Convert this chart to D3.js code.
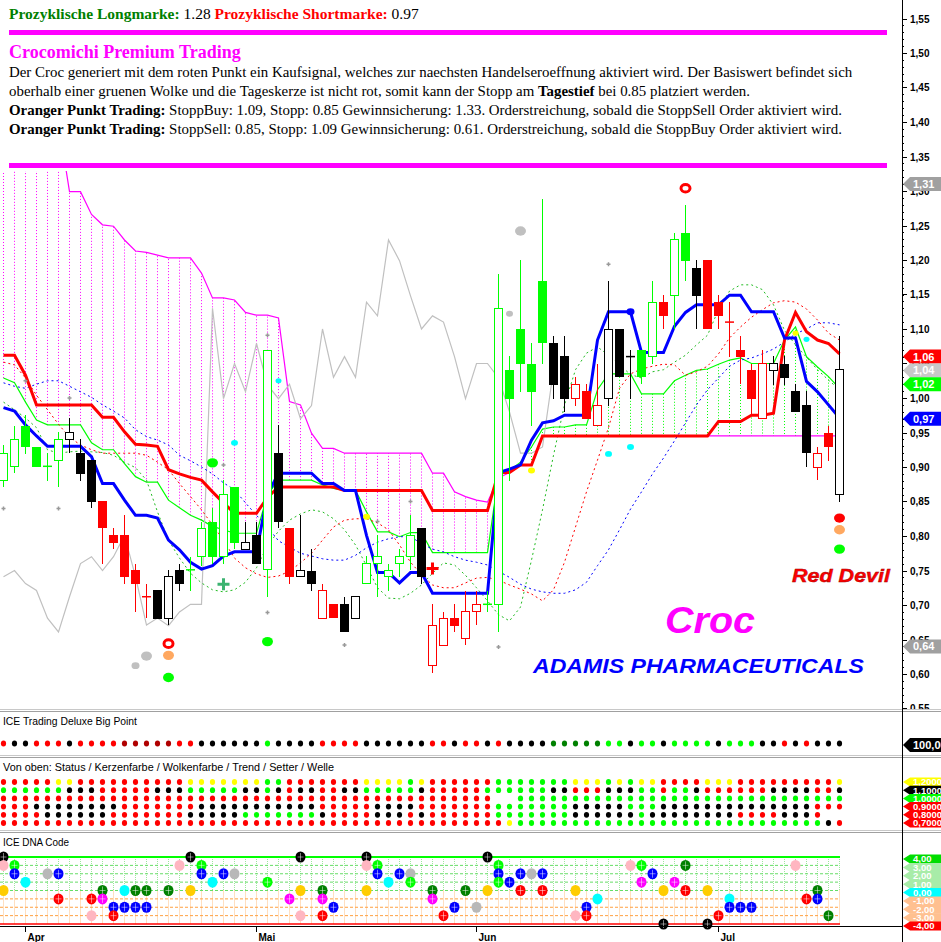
<!DOCTYPE html>
<html><head><meta charset="utf-8">
<script src="https://cdn.jsdelivr.net/npm/d3@7"></script>
<style>body{margin:0;background:#fff}svg{display:block}</style>
</head><body>
<svg id="chart" width="941" height="942"></svg>
<script>
var openV=[0.881,0.901,0.960,0.929,0.901,0.910,0.940,0.920,0.910,0.851,
0.801,0.801,0.751,0.712,0.722,0.681,0.751,0.751,0.770,0.821,
0.770,0.871,0.781,0.801,0.751,0.920,0.811,0.741,0.750,0.681,
0.701,0.701,0.681,0.731,0.760,0.741,0.760,0.770,0.811,0.612,
0.642,0.681,0.652,0.690,0.701,0.701,1.041,1.100,1.050,1.170,
1.080,1.061,0.999,1.010,0.960,0.999,1.100,1.060,1.070,1.060,
1.139,1.149,1.239,1.189,1.200,1.139,1.110,1.070,1.041,0.971,
1.040,1.050,1.010,0.990,0.900,0.950,0.860];
var highV=[0.932,0.960,0.975,0.929,0.920,0.951,0.971,0.940,0.910,0.851,
0.811,0.830,0.760,0.731,0.722,0.751,0.760,0.770,0.821,0.840,
0.881,0.871,0.821,0.821,1.069,0.961,0.811,0.830,0.781,0.731,
0.701,0.712,0.712,0.771,0.801,0.760,0.781,0.830,0.811,0.701,
0.690,0.701,0.721,0.721,0.721,1.180,1.061,1.200,1.079,1.289,
1.090,1.090,1.030,1.020,1.050,1.170,1.100,1.070,1.070,1.170,
1.149,1.239,1.280,1.200,1.200,1.149,1.139,1.090,1.050,1.070,
1.061,1.061,1.020,1.010,0.929,0.960,1.090];
var lowV=[0.871,0.891,0.919,0.900,0.880,0.871,0.920,0.880,0.840,0.760,
0.781,0.731,0.690,0.681,0.680,0.671,0.721,0.721,0.757,0.760,
0.760,0.781,0.781,0.760,0.712,0.811,0.731,0.741,0.721,0.681,
0.681,0.661,0.681,0.731,0.712,0.721,0.741,0.751,0.731,0.601,
0.642,0.661,0.642,0.671,0.690,0.661,0.880,1.009,0.959,1.050,
0.999,0.980,0.989,0.970,0.960,0.989,1.030,0.999,1.020,1.050,
1.100,1.100,1.170,1.100,1.100,1.100,1.060,1.020,0.975,0.971,
1.019,1.019,0.980,0.900,0.881,0.909,0.850];
var closeV=[0.920,0.940,0.929,0.900,0.901,0.940,0.950,0.890,0.850,0.811,
0.790,0.741,0.731,0.712,0.680,0.742,0.731,0.751,0.811,0.770,
0.860,0.790,0.791,0.760,1.069,0.821,0.741,0.750,0.731,0.721,
0.681,0.661,0.712,0.760,0.770,0.750,0.770,0.801,0.741,0.671,
0.681,0.670,0.690,0.701,0.701,1.130,0.999,1.050,1.009,1.079,
1.019,0.999,1.020,0.970,0.989,1.100,1.030,1.060,1.030,1.139,
1.119,1.229,1.199,1.148,1.100,1.119,1.110,1.060,0.999,1.050,
1.050,1.029,0.980,0.920,0.920,0.929,1.041];
// Kerzenfarbe: g = gruen, k = schwarz, r = rot
var candleCol='gggggg'+'kkk'+'rrrrr'+'kkk'+'ggggg'+'kk'+'g'+'k'+'r'+'kk'+'rr'+'kk'+'ggggg'+'k'+'rrrrr'+'gggggg'+'kk'+'rrr'+'kkk'+'gg'+'r'+'gg'+'k'+'rrrrrr'+'kkkk'+'rr'+'k';

var kijun=[1.062,1.062,1.033,0.990,0.990,0.990,0.990,0.990,0.990,0.972,
0.972,0.951,0.933,0.932,0.930,0.896,0.890,0.885,0.881,0.864,
0.848,0.833,0.833,0.833,0.856,0.871,0.871,0.871,0.871,0.871,
0.871,0.866,0.866,0.866,0.866,0.866,0.866,0.866,0.866,0.837,
0.837,0.837,0.837,0.837,0.837,0.892,0.892,0.903,0.903,0.945,
0.945,0.945,0.945,0.945,0.945,0.945,0.945,0.945,0.945,0.945,
0.945,0.945,0.945,0.945,0.945,0.966,0.966,0.966,0.975,0.975,
0.978,1.084,1.124,1.096,1.084,1.079,1.064];
var tenkan=[0.986,0.981,0.961,0.945,0.930,0.930,0.930,0.930,0.915,0.876,
0.876,0.852,0.830,0.830,0.826,0.794,0.780,0.762,0.752,0.757,
0.771,0.777,0.777,0.777,0.860,0.891,0.891,0.891,0.891,0.876,
0.876,0.866,0.866,0.801,0.747,0.747,0.732,0.747,0.747,0.717,
0.717,0.717,0.717,0.717,0.717,0.892,0.897,0.903,0.939,0.964,
0.967,0.975,0.975,0.975,1.084,1.125,1.125,1.125,1.066,1.066,
1.066,1.104,1.124,1.135,1.135,1.135,1.149,1.149,1.125,1.125,
1.125,1.087,1.087,1.024,1.009,0.990,0.971];
var spanA=[1.029,1.022,0.994,0.968,0.961,0.961,0.961,0.961,0.935,0.925,
0.925,0.905,0.886,0.878,0.878,0.852,0.841,0.830,0.823,0.814,
0.809,0.804,0.804,0.804,0.860,0.881,0.881,0.881,0.881,0.874,
0.869,0.866,0.866,0.835,0.806,0.806,0.799,0.805,0.805,0.776,
0.776,0.776,0.776,0.776,0.776,0.888,0.895,0.907,0.929,0.955,
0.958,0.958,0.961,0.961,1.012,1.035,1.035,1.035,1.006,1.006,
1.006,1.025,1.033,1.040,1.042,1.049,1.055,1.058,1.050,1.050,
1.050,1.084,1.103,1.060,1.045,1.031,1.014];
var spanB=[1.400,1.400,1.400,1.400,1.400,1.400,1.299,1.299,1.266,1.251,
1.249,1.229,1.213,1.211,1.207,1.203,1.203,1.203,1.181,1.145,
1.145,1.142,1.124,1.120,1.120,1.116,0.995,0.990,0.949,0.927,
0.927,0.920,0.920,0.920,0.920,0.920,0.920,0.920,0.920,0.891,
0.891,0.864,0.857,0.852,0.849,0.884,0.892,0.903,0.903,0.945,
0.945,0.945,0.945,0.945,0.945,0.945,0.945,0.945,0.945,0.945,
0.945,0.945,0.945,0.945,0.945,0.945,0.945,0.945,0.945,0.945,
0.945,0.945,0.945,0.945,0.945,0.945,0.945];
var dashRed=[1.052,1.048,1.029,1.004,0.983,0.962,0.943,0.932,0.925,0.920,
0.920,0.920,0.920,0.917,0.907,0.896,0.876,0.857,0.838,0.816,
0.794,0.768,0.754,0.745,0.740,0.742,0.749,0.761,0.775,0.794,
0.813,0.823,0.825,0.825,0.819,0.809,0.787,0.762,0.744,0.729,
0.725,0.725,0.732,0.739,0.740,0.736,0.729,0.723,0.716,0.706,
0.722,0.762,0.813,0.864,0.910,0.957,1.014,1.035,1.042,1.046,
1.049,1.048,1.033,1.038,1.046,1.064,1.087,1.103,1.117,1.128,
1.138,1.141,1.139,1.129,1.113,1.094,1.084];
var dashBlue=[1.022,1.017,1.014,1.020,1.025,1.025,1.017,1.009,1.001,0.990,
0.981,0.971,0.954,0.944,0.939,0.932,0.917,0.909,0.900,0.890,
0.877,0.867,0.848,0.830,0.813,0.793,0.784,0.775,0.771,0.767,
0.765,0.765,0.772,0.783,0.791,0.796,0.799,0.799,0.789,0.781,
0.777,0.770,0.765,0.762,0.758,0.749,0.740,0.730,0.723,0.719,
0.717,0.717,0.722,0.733,0.757,0.780,0.809,0.839,0.864,0.890,
0.913,0.938,0.964,0.990,1.012,1.029,1.046,1.055,1.058,1.064,
1.071,1.081,1.093,1.100,1.109,1.109,1.106];
var dashGreen=[0.994,0.983,0.971,0.957,0.925,0.920,0.922,0.923,0.922,0.921,
0.917,0.907,0.899,0.881,0.835,0.794,0.768,0.746,0.732,0.722,
0.719,0.722,0.733,0.754,0.786,0.807,0.823,0.832,0.838,0.835,
0.825,0.809,0.787,0.757,0.725,0.710,0.709,0.717,0.729,0.746,
0.761,0.758,0.743,0.725,0.706,0.686,0.677,0.697,0.765,0.838,
0.917,0.990,1.041,1.065,1.074,1.062,1.048,1.034,1.029,1.038,
1.041,1.052,1.062,1.077,1.091,1.128,1.155,1.164,1.164,1.157,
1.135,1.098,1.077,1.059,1.041,1.026,1.012];

// kleine graue Kreuze [Index, Kurs]
var grayCrossI=[0,2,5,6,20,24,24,31,34,37,45,55];
var grayCrossV=[0.840,1.025,0.840,1.000,0.903,1.091,0.689,0.642,0.821,0.850,0.639,1.194];
// Signalpunkte [Index, Kurs, Farbe, Radius, Ring]
var sigI=[13,12,15,15,15,19,24,21,25,33,47,46,48,55,57,57,62,72,73,76,76,76];
var sigV=[0.626,0.612,0.644,0.627,0.595,0.906,0.647,0.935,1.025,0.828,1.242,1.122,0.895,0.919,0.929,1.125,1.304,1.094,1.085,0.826,0.809,0.781];
var sigC=['#c0c0c0','#c0c0c0','#ff0000','#ffa860','#00ff00','#00ff00','#00ff00','#00ffff','#00ffff','#ffff00','#c0c0c0','#c0c0c0','#ffff00','#00ffff','#00ffff','#0000ff','#ff0000','#ffff00','#00ffff','#ff0000','#ffa860','#00ff00'];
var sigR=[5.5,4,4.5,5.5,5.5,5.5,5.5,3.5,3,3.5,5.5,3.5,3.5,3.5,3.5,4,4.5,3,3,5.5,5.5,5.5];
var sigRing=[0,0,1,0,0,0,0,0,0,0,0,0,0,0,0,0,1,0,0,0,0,0];
var plusI=[20,39], plusV=[0.730,0.753], plusC=['#3cb371','#ff0000'];

var tagVals=[1.31,1.06,1.04,1.02,0.97,0.64];
var tagBg=['#a0a0a0','#ff0000','#c8c8c8','#00ff00','#0000ff','#a0a0a0'];

var monthStart=[2,23,43,65], monthNames=['Apr','Mai','Jun','Jul'];

// ICE Trading Deluxe Big Point (r rot, k schwarz, g gruen, D dunkelrot, E dunkelgruen)
var bigPoint='rkkrrrkrrrrDDDDDrrkkkkkkgkkkkrrrrkkkkkk'+'rrkrrkrkkkkEEEEEggkggkggggkgggkkrkrkkk';
// Von oben: Status / Kerzenfarbe / Wolkenfarbe / Trend / Setter / Welle
var rowStatus='rrrrr'+'yy'+'rrrrrrrrrr'+'yyyyyyy'+'gg'+'rrrrrrr'+'yyyy'+'g'+'y'+
              'rrrrrr'+'ggggggg'+'yyy'+'g'+'y'+'g'+'yy'+'rrrr'+'yyy'+'rrrrrrrrr'+'y';
var rowWolke ='rrrrrrrrrrrrrrrrrrrrrrrrrrrrrrrrrrrrrrrrrrrrr'+'  '+'gggggggggggggggggggggggggggggg';
var rowTrend ='rrrkkkkkkkkrrrrrrrkkkkkkkkkkkrrrrrkkkkr'+
              'rrrrrr'+'ggggggg'+'kkkkk'+'ggg'+'kkkkkkkkkkkkkk'+'rrr';
var rowSetter='rrrrkkkkkkrrrrrrrkkkkkgggggggkrrrrkkkrk'+
              'rrrrrr'+'ggggggg'+'kkkkkk'+'g'+'kkkkkkkk'+'rrrr'+'kkkr';
var rowWelle ='rrrrrrrrrrrrrrrrrrrrrrrrrrrrrrrrrrrrrrr'+
              'rrrrrrr'+'y'+'gggggggggggggggggggggggggggg'+'kr';

// ICE DNA Code: Index, Stufe, Farbe
var dnaI=[0,0,0,1,1,2,4,5,5,8,8,9,9,10,10,11,11,12,12,13,13,15,16,17,17,18,18,19,20,21,24,26,27,27,27,29,29,29,30,
33,33,33,34,34,35,36,37,37,39,39,40,41,42,43,44,44,45,45,45,46,47,47,48,49,49,52,52,53,53,54,57,58,58,59,60,60,61,62,62,64,64,65,66,66,67,68,72,73,74,74,75];
var dnaL=[4,3,0,3,2,1,2,2,-1,-1,-3,0,-1,-2,-3,0,-2,0,-2,0,-2,0,3,4,0,3,2,1,2,2,1,-1,4,0,-3,0,-1,-3,-2,
4,3,0,3,2,1,2,2,1,0,-1,-3,-2,0,-2,4,0,3,2,1,1,2,0,2,2,0,0,-3,-2,-3,-1,3,3,1,2,0,-4,1,3,0,0,-4,-3,-1,-2,-2,-2,3,-1,0,-1,-3];
var dnaC='KPYGBCSBRRPDMBRCBDBDBDPKYGBCBSGMKYPDMRB'+'KPYGBCBSGDMRBDSKYGBGBBRSBRYPBRCPGMBYKMDRYKRCBBBPRDBD';
</script>
<script>
var svg=d3.select('#chart');
var colMap={g:'#00ff00',k:'#000000',r:'#ff0000',y:'#ffff00',D:'#b00000',E:'#008000'};
var dnaCol={K:'#000000',P:'#ffb6c1',Y:'#ffcc00',G:'#00ff00',B:'#0000ff',C:'#00ffff',S:'#b8b8b8',R:'#ff0000',D:'#008000',M:'#ff00ff'};

var x=d3.scaleLinear().domain([0,76]).range([3.5,839.5]);
var y=d3.scaleLinear().domain([0.6,1.55]).range([674,18.5]);
var idx=d3.range(77);

/* ---------- Hauptchart ---------- */
svg.append('defs').append('clipPath').attr('id','plot')
  .append('rect').attr('x',0).attr('y',171).attr('width',900).attr('height',538);
var g=svg.append('g').attr('clip-path','url(#plot)');

// Wolke: Schraffur
idx.forEach(function(i){
  var bull=spanA[i]>spanB[i];
  g.append('line').attr('x1',x(i)).attr('x2',x(i))
    .attr('y1',y(spanA[i])).attr('y2',y(spanB[i]))
    .attr('stroke',bull?'#00ff00':'#ff00ff').attr('stroke-dasharray','1,2');
});
function line(vals){return d3.line().x(function(d,i){return x(i)}).y(function(d){return y(d)})(vals);}
g.append('path').attr('d',line(spanB)).attr('fill','none').attr('stroke','#ff00ff').attr('stroke-width',1.2);
g.append('path').attr('d',line(spanA)).attr('fill','none').attr('stroke','#00ff00').attr('stroke-width',1.2);

// Chikou (Schlusskurs 26 Perioden zurueck)
g.append('path').attr('d',line(closeV.slice(26))).attr('fill','none').attr('stroke','#c0c0c0').attr('stroke-width',1.2);

// gestrichelte Linien
[[dashGreen,'#22bb22'],[dashBlue,'#0000ff'],[dashRed,'#ff0000']].forEach(function(p){
  g.append('path').attr('d',line(p[0])).attr('fill','none').attr('stroke',p[1])
    .attr('stroke-width',1).attr('stroke-dasharray','2,3');
});
g.append('path').attr('d',line(kijun)).attr('fill','none').attr('stroke','#ff0000').attr('stroke-width',3);
g.append('path').attr('d',line(tenkan)).attr('fill','none').attr('stroke','#0000ff').attr('stroke-width',3);

// Kerzen
idx.forEach(function(i){
  var cx=x(i), col=colMap[candleCol[i]];
  var o=openV[i], c=closeV[i];
  g.append('line').attr('x1',cx).attr('x2',cx).attr('y1',y(highV[i])).attr('y2',y(lowV[i]))
    .attr('stroke',col).attr('shape-rendering','crispEdges');
  if(Math.abs(o-c)<0.002){
    g.append('line').attr('x1',cx-4.5).attr('x2',cx+4.5).attr('y1',y(o)).attr('y2',y(o))
      .attr('stroke',col).attr('stroke-width',1.5);
  } else if(c>o){
    g.append('rect').attr('x',cx-4).attr('y',y(c)).attr('width',8).attr('height',y(o)-y(c))
      .attr('fill','#fff').attr('stroke',col).attr('shape-rendering','crispEdges');
  } else {
    g.append('rect').attr('x',cx-4.5).attr('y',y(o)).attr('width',9).attr('height',y(c)-y(o))
      .attr('fill',col).attr('shape-rendering','crispEdges');
  }
});

// Marker
grayCrossI.forEach(function(ii,k){
  var cx=x(ii), cy=y(grayCrossV[k]);
  g.append('path').attr('d','M'+(cx-2)+','+cy+'H'+(cx+2)+'M'+cx+','+(cy-2)+'V'+(cy+2))
    .attr('stroke','#999').attr('stroke-width',1.5);
});
sigI.forEach(function(ii,k){
  var e=g.append('ellipse').attr('cx',x(ii)).attr('cy',y(sigV[k])).attr('rx',sigR[k]).attr('ry',sigR[k]*0.85);
  if(sigRing[k]) e.attr('fill','#fff').attr('stroke',sigC[k]).attr('stroke-width',3);
  else e.attr('fill',sigC[k]);
});
plusI.forEach(function(ii,k){
  var cx=x(ii), cy=y(plusV[k]);
  g.append('path').attr('d','M'+(cx-6)+','+cy+'H'+(cx+6)+'M'+cx+','+(cy-6)+'V'+(cy+6))
    .attr('stroke',plusC[k]).attr('stroke-width',3);
});

// Schriftzuege
svg.append('text').attr('x',792).attr('y',582).attr('font-family','Liberation Sans,Arial,sans-serif')
  .attr('font-size',18).attr('font-weight','bold').attr('font-style','italic').attr('fill','#ff0000')
  .attr('stroke','#a00000').attr('stroke-width',0.4)
  .attr('textLength',98).attr('lengthAdjust','spacingAndGlyphs').text('Red Devil');
svg.append('text').attr('x',665).attr('y',633).attr('font-family','Liberation Sans,Arial,sans-serif')
  .attr('font-size',36).attr('font-weight','bold').attr('font-style','italic').attr('fill','#ff00ff')
  .attr('textLength',90).attr('lengthAdjust','spacingAndGlyphs').text('Croc');
svg.append('text').attr('x',533).attr('y',673).attr('font-family','Liberation Sans,Arial,sans-serif')
  .attr('font-size',20).attr('font-weight','bold').attr('font-style','italic').attr('fill','#0000ff')
  .attr('textLength',331).attr('lengthAdjust','spacingAndGlyphs').text('ADAMIS PHARMACEUTICALS');

/* ---------- Textkasten oben ---------- */
svg.append('rect').attr('x',0).attr('y',0).attr('width',900).attr('height',171).attr('fill','#fff');
var serif='Liberation Serif,Times New Roman,serif';
var t1=svg.append('text').attr('x',9).attr('y',19).attr('font-family',serif).attr('font-size',15.5);
t1.append('tspan').attr('fill','#008000').attr('font-weight','bold').text('Prozyklische Longmarke: ');
t1.append('tspan').attr('fill','#000').text('1.28 ');
t1.append('tspan').attr('fill','#ff0000').attr('font-weight','bold').text('Prozyklische Shortmarke: ');
t1.append('tspan').attr('fill','#000').text('0.97');
svg.append('rect').attr('x',9).attr('y',30).attr('width',878).attr('height',5).attr('fill','#ff00ff');
svg.append('rect').attr('x',9).attr('y',163).attr('width',878).attr('height',5).attr('fill','#ff00ff');
svg.append('text').attr('x',9).attr('y',58).attr('font-family',serif).attr('font-size',18)
  .attr('font-weight','bold').attr('fill','#ff00ff').text('Crocomichi Premium Trading');
var body=[
  [['','Der Croc generiert mit dem roten Punkt ein Kaufsignal, welches zur naechsten Handelseroeffnung aktiviert wird. Der Basiswert befindet sich']],
  [['','oberhalb einer gruenen Wolke und die Tageskerze ist nicht rot, somit kann der Stopp am '],['b','Tagestief'],['',' bei 0.85 platziert werden.']],
  [['b','Oranger Punkt Trading:'],['',' StoppBuy: 1.09, Stopp: 0.85 Gewinnsicherung: 1.33. Orderstreichung, sobald die StoppSell Order aktiviert wird.']],
  [['b','Oranger Punkt Trading:'],['',' StoppSell: 0.85, Stopp: 1.09 Gewinnsicherung: 0.61. Orderstreichung, sobald die StoppBuy Order aktiviert wird.']]
];
body.forEach(function(parts,k){
  var t=svg.append('text').attr('x',9).attr('y',77+k*19).attr('font-family',serif).attr('font-size',14.9).attr('fill','#000');
  parts.forEach(function(p){t.append('tspan').attr('font-weight',p[0]?'bold':'normal').text(p[1]);});
});

/* ---------- Kursachse rechts ---------- */
var ax=svg.append('g').attr('transform','translate(902,0)');
d3.range(0.55,1.555,0.01).forEach(function(v){
  var yy=Math.round(y(v))+0.5;
  ax.append('line').attr('x1',0).attr('x2',2).attr('y1',yy).attr('y2',yy).attr('stroke','#000');
});
d3.range(0.55,1.555,0.05).forEach(function(v){
  var yy=Math.round(y(v))+0.5;
  ax.append('line').attr('x1',0).attr('x2',5).attr('y1',yy).attr('y2',yy).attr('stroke','#000');
  ax.append('text').attr('x',8).attr('y',yy).attr('dy','0.35em').attr('font-family','Liberation Sans,Arial,sans-serif')
    .attr('font-size',10).attr('font-weight','bold').text(v.toFixed(2).replace('.',','));
});
function tag(yy,txt,bg,fg,h){
  h=h||14;
  var t=svg.append('g');
  t.append('path').attr('d','M903,'+yy+'L910,'+(yy-h/2)+'H941V'+(yy+h/2)+'H910Z').attr('fill',bg);
  t.append('text').attr('x',913).attr('y',yy).attr('dy','0.36em').attr('font-family','Liberation Sans,Arial,sans-serif')
    .attr('font-size',h<12?9.5:11).attr('font-weight','bold').attr('fill',fg||'#fff').text(txt);
}
tagVals.forEach(function(v,k){tag(y(v),v.toFixed(2).replace('.',','),tagBg[k]);});

/* ---------- Unterfenster ---------- */
svg.append('rect').attr('x',0).attr('y',709).attr('width',941).attr('height',233).attr('fill','#fff');
[709,755,830].forEach(function(yy){
  svg.append('rect').attr('x',0).attr('y',yy).attr('width',941).attr('height',1).attr('fill','#c8c8c8');
  svg.append('rect').attr('x',0).attr('y',yy+2).attr('width',941).attr('height',1).attr('fill','#a0a0a0');
});
function title(txt,yy,len){
  svg.append('text').attr('x',3).attr('y',yy).attr('font-family','Liberation Sans,Arial,sans-serif')
    .attr('font-size',10.5).attr('textLength',len).attr('lengthAdjust','spacingAndGlyphs').text(txt);
}
title('ICE Trading Deluxe Big Point',725,134);
title('Von oben: Status / Kerzenfarbe / Wolkenfarbe / Trend / Setter / Welle',771,331);
title('ICE DNA Code',846,66);

function dotRow(str,yy){
  idx.forEach(function(i){
    var ch=str[i]; if(!ch||ch===' ') return;
    svg.append('ellipse').attr('cx',x(i)).attr('cy',yy).attr('rx',2.6).attr('ry',2.9).attr('fill',colMap[ch]);
  });
}
dotRow(bigPoint,743.5);
var rows=[rowStatus,candleCol,rowWolke,rowTrend,rowSetter,rowWelle];
rows.forEach(function(r,k){dotRow(r,782+k*8.2);});
tag(745,'100,00','#000');
var p3Tags=[['1,2000','#ffff00'],['1,1000','#000'],['1,0000','#00ff00'],['0,9000','#ff0000'],['0,8000','#ff0000'],['0,7000','#ff0000']];
p3Tags.forEach(function(p,k){tag(782+k*8.2,p[0],p[1],'#fff',9);});

// DNA
var yd=d3.scaleLinear().domain([-4,4]).range([924,857]);
idx.forEach(function(i){
  svg.append('line').attr('x1',x(i)).attr('x2',x(i)).attr('y1',yd(4)).attr('y2',yd(0))
    .attr('stroke','#9be89b').attr('stroke-dasharray','1,1');
  svg.append('line').attr('x1',x(i)).attr('x2',x(i)).attr('y1',yd(0)).attr('y2',yd(-4))
    .attr('stroke','#ffbf80').attr('stroke-dasharray','1,1');
});
[3,2,1,0,-1,-2,-3].forEach(function(l){
  svg.append('line').attr('x1',0).attr('x2',840).attr('y1',yd(l)).attr('y2',yd(l))
    .attr('stroke',l>=0?'#66dd66':'#ffa040').attr('stroke-dasharray','3,2');
});
svg.append('line').attr('x1',0).attr('x2',840).attr('y1',yd(4)).attr('y2',yd(4)).attr('stroke','#00ff00').attr('stroke-width',2);
svg.append('line').attr('x1',0).attr('x2',840).attr('y1',yd(-4)).attr('y2',yd(-4)).attr('stroke','#ff0000').attr('stroke-width',1.5);
dnaI.forEach(function(ii,k){
  var c=dnaC[k], cx=x(ii), cy=yd(dnaL[k]);
  svg.append('ellipse').attr('cx',cx).attr('cy',cy).attr('rx',5).attr('ry',5.5).attr('fill',dnaCol[c]);
  if('GBDRMK'.indexOf(c)>=0){
    svg.append('path').attr('d','M'+(cx-3)+','+cy+'H'+(cx+3)+'M'+cx+','+(cy-4)+'V'+(cy+4))
      .attr('stroke','rgba(255,255,255,.6)').attr('stroke-width',0.8);
  }
});
var dnaTags=[['4,00','#00dd00'],['3,00','#a8eca8'],['2,00','#a8eca8'],['1,00','#a8eca8'],['0,00','#00ffff'],['-1,00','#ffc090'],['-2,00','#ffc090'],['-3,00','#ffc090'],['-4,00','#ff0000']];
dnaTags.forEach(function(p,k){tag(yd(4-k)+2,p[0],p[1],'#fff',9);});

// Zeitachse
svg.append('line').attr('x1',0).attr('x2',902).attr('y1',926.5).attr('y2',926.5).attr('stroke','#000');
monthStart.forEach(function(i,k){
  var mx=Math.round(x(i)-0.5)+0.5;
  svg.append('line').attr('x1',mx).attr('x2',mx).attr('y1',927).attr('y2',932).attr('stroke','#000');
  svg.append('text').attr('x',mx+2).attr('y',941).attr('font-family','Liberation Sans,Arial,sans-serif')
    .attr('font-size',10).attr('font-weight','bold').text(monthNames[k]);
});
svg.append('line').attr('x1',902.5).attr('x2',902.5).attr('y1',0).attr('y2',942).attr('stroke','#000');
</script>
</body></html>
